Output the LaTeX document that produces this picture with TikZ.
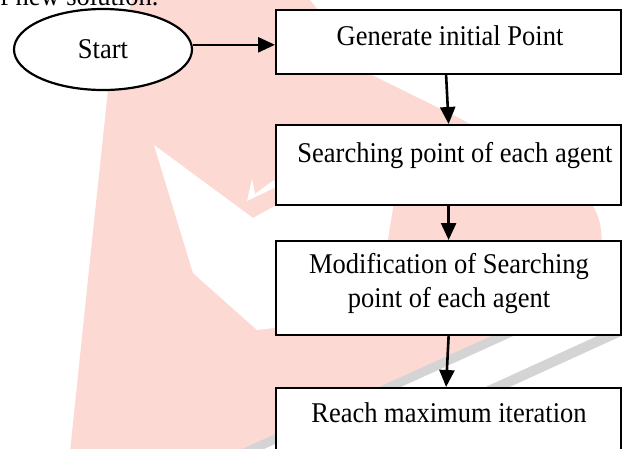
\documentclass[tikz,border=0pt]{standalone}
\usepackage{fontspec}
\setmainfont{Liberation Serif}[FakeStretch=0.927]
\usetikzlibrary{arrows.meta,shapes.geometric}
\definecolor{wmpink}{RGB}{252,217,211}
\definecolor{wmgrey}{RGB}{212,212,212}
\begin{document}
\begin{tikzpicture}[x=1pt,y=-1pt,
  font=\fontsize{28.6pt}{34pt}\selectfont,
  box/.style={draw=black, line width=2.2pt, fill=white, rectangle,
    minimum width=345pt, anchor=north west, inner sep=0pt},
  startnode/.style={draw=black, line width=2.2pt, fill=white, ellipse,
    minimum width=178pt, minimum height=81pt, inner sep=0pt},
  txt/.style={anchor=base, inner sep=0pt, align=center},
  arr/.style={line width=2.6pt, -{Triangle[length=17pt,width=15pt]}}]
\useasboundingbox (0,0) rectangle (622,448);
\clip (0,0) rectangle (622,448);
% watermark
\fill[wmpink] (132,0) -- (310,0) -- (370,74) -- (463,120) -- (560,175)
  .. controls (600,200) and (605,225) .. (600,260)
  .. controls (595,300) and (560,325) .. (507,334)
  -- (264,443) -- (250,452) -- (70,452) -- (90,260) -- (108,90) -- cycle;
\fill[white] (154,145) -- (253,218) -- (280,203) -- (395,196) -- (387,245)
  -- (275,328) -- (257,330) -- (193,273) -- cycle;
\fill[white] (247,201) -- (252,179) -- (255,194) -- (274,180) -- (276,187) -- cycle;
\draw[wmgrey, line width=9pt] (240,455) -- (520,328);
\draw[wmgrey, line width=10pt] (480,395) -- (640,322);
% top text
\node[anchor=base west, inner sep=0pt] (topline) at (0,5) {f new solution.};
% nodes
\node[startnode] (start) at (103,49.5) {Start};
\node[box, minimum height=64pt] (gen) at (275,9) {};
\node[box, minimum height=80pt] (srch) at (275,124) {};
\node[box, minimum height=94pt] (modif) at (275,240) {};
\node[box, minimum height=80pt] (reach) at (275,387) {};
\node[txt] (gentxt) at (450,45) {Generate initial Point};
\node[txt] (srchtxt) at (455,162) {Searching point of each agent};
\node[txt] (modiftxt) at (449,307) {Modification of Searching\\point of each agent};
\node[txt] (reachtxt) at (449,422) {Reach maximum iteration};
% connectors
\draw[arr] (start.3) -- (start.3 -| gen.west);
\draw[arr] ([xshift=-2.5pt]gen.south) -- (srch.north);
\draw[arr] (srch.south) -- (modif.north);
\draw[arr] (modif.south) -- ([xshift=-2.5pt]reach.north);
\end{tikzpicture}
\end{document}
